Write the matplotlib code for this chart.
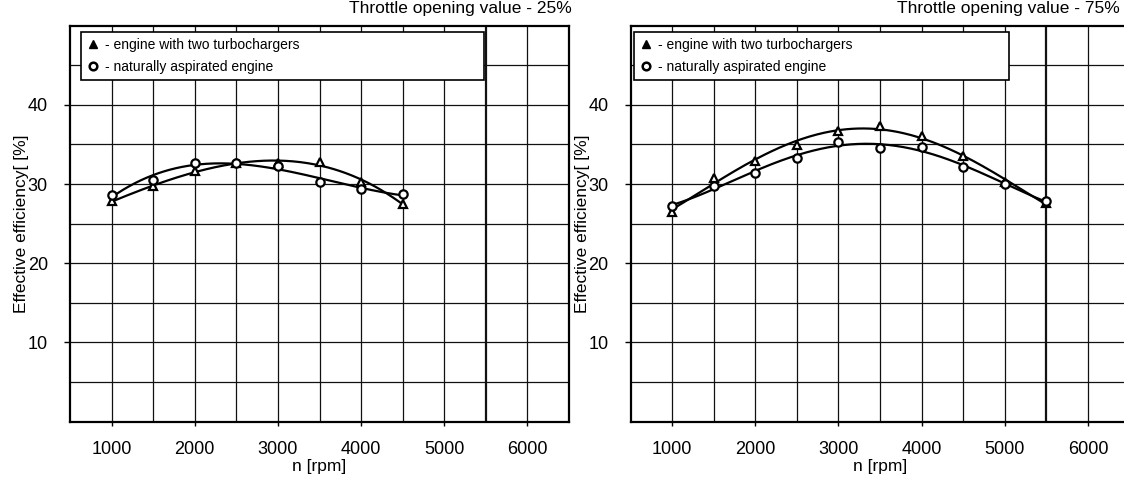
import matplotlib.pyplot as plt
import numpy as np

plt.rcParams['font.family'] = ['Liberation Sans', 'DejaVu Sans']

rpm_25 = [1000, 1500, 2000, 2500, 3000, 3500, 4000, 4500]
turbo_25 = [27.8, 29.7, 31.6, 32.7, 32.6, 32.8, 30.3, 27.5]
natural_25 = [28.6, 30.5, 32.6, 32.7, 32.3, 30.3, 29.4, 28.7]

rpm_75 = [1000, 1500, 2000, 2500, 3000, 3500, 4000, 4500, 5000, 5500]
turbo_75 = [26.5, 30.8, 32.9, 34.9, 36.7, 37.3, 36.1, 33.5, 30.2, 27.6]
natural_75 = [27.2, 29.8, 31.4, 33.3, 35.3, 34.6, 34.7, 32.1, 30.0, 27.8]

titles = ["Throttle opening value - 25%", "Throttle opening value - 75%"]
labels = ["- engine with two turbochargers", "- naturally aspirated engine"]


def trend(x, y, deg):
    p = np.polyfit(x, y, deg)
    xs = np.linspace(min(x), max(x), 200)
    return xs, np.polyval(p, xs)


def draw_panel(ax, rpm, turbo, natural, deg, legend_box):
    ax.set_xlim(500, 6500)
    ax.set_ylim(0, 50)
    for xv in np.arange(1000, 6500, 500):
        lw = 1.6 if xv == 5500 else 0.9
        ax.axvline(xv, color='#111111', lw=lw, zorder=1)
    for yv in np.arange(5, 50, 5):
        ax.axhline(yv, color='#111111', lw=0.9, zorder=1)

    xs, ys = trend(rpm, turbo, deg)
    ax.plot(xs, ys, color='black', lw=1.6, zorder=3)
    xs, ys = trend(rpm, natural, deg)
    ax.plot(xs, ys, color='black', lw=1.6, zorder=3)
    ax.plot(rpm, turbo, ls='none', marker='^', ms=6, mfc='white', mec='black', mew=1.6, zorder=4)
    ax.plot(rpm, natural, ls='none', marker='o', ms=6, mfc='white', mec='black', mew=1.6, zorder=4)

    h1, = ax.plot([], [], ls='none', marker='^', ms=6, mfc='black', mec='black')
    h2, = ax.plot([], [], ls='none', marker='o', ms=5.5, mfc='white', mec='black', mew=1.8)
    leg = ax.legend([h1, h2], labels, loc='upper left', bbox_to_anchor=legend_box,
                    mode='expand', fontsize=10, handlelength=0.8, handletextpad=0.5,
                    fancybox=False, framealpha=1, borderaxespad=0, labelspacing=0.6,
                    borderpad=0.45)
    leg.get_frame().set_edgecolor('black')
    leg.get_frame().set_linewidth(1.2)
    leg.set_zorder(5)

    ax.set_xticks([1000, 2000, 3000, 4000, 5000, 6000])
    ax.set_yticks([10, 20, 30, 40])
    ax.tick_params(axis='x', direction='out', length=3, width=1, pad=11, labelsize=13)
    ax.tick_params(axis='y', direction='out', length=4, width=1, pad=12, labelsize=13)
    for s in ax.spines.values():
        s.set_linewidth(1.6)
    ax.set_xlabel("n [rpm]", fontsize=12.5, labelpad=1)
    ax.set_ylabel("Effective efficiency[ [%]", fontsize=12.5, labelpad=-1)


fig = plt.figure(figsize=(11.24, 4.84), dpi=100)
ax1 = fig.add_axes([70 / 1124, 1 - 421.5 / 484, 499 / 1124, 395.8 / 484])
ax2 = fig.add_axes([630.5 / 1124, 1 - 421.5 / 484, 499 / 1124, 395.8 / 484])

draw_panel(ax1, rpm_25, turbo_25, natural_25, 3, (0.022, 0.866, 0.808, 0.119))
draw_panel(ax2, rpm_75, turbo_75, natural_75, 4, (0.007, 0.866, 0.752, 0.119))

fig.text(572 / 1124, 1 - 9 / 484, titles[0], ha='right', va='center', fontsize=12.5)
fig.text(1120 / 1124, 1 - 9 / 484, titles[1], ha='right', va='center', fontsize=12.5)

fig.savefig("out.png", dpi=100)
